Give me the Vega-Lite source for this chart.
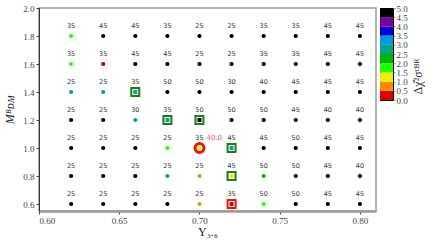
{
  "$schema": "https://vega.github.io/schema/vega-lite/v6.json",
  "background": "white",
  "padding": {"left": 3, "top": 3, "right": 2, "bottom": 0},
  "spacing": 2,
  "config": {
    "axis": {"labelFont": "Liberation Serif", "labelFontSize": 9, "labelColor": "#444", "titleFont": "Liberation Serif", "titleFontWeight": "normal", "titleColor": "#222", "tickColor": "#444", "tickSize": 3, "grid": false, "labelPadding": 2},
    "text": {"font": "DejaVu Sans"}
  },
  "resolve": {"scale": {"x": "independent", "y": "independent", "color": "shared"}},
  "datasets": {
    "pts": [
      {"x": 0.62, "y": 1.8, "lab": "35", "d": 1.75, "f": ""},
      {"x": 0.64, "y": 1.8, "lab": "45", "d": 5, "f": ""},
      {"x": 0.66, "y": 1.8, "lab": "45", "d": 5, "f": ""},
      {"x": 0.68, "y": 1.8, "lab": "35", "d": 5, "f": ""},
      {"x": 0.70, "y": 1.8, "lab": "25", "d": 5, "f": ""},
      {"x": 0.72, "y": 1.8, "lab": "25", "d": 5, "f": ""},
      {"x": 0.74, "y": 1.8, "lab": "35", "d": 5, "f": ""},
      {"x": 0.76, "y": 1.8, "lab": "35", "d": 5, "f": ""},
      {"x": 0.78, "y": 1.8, "lab": "45", "d": 5, "f": ""},
      {"x": 0.80, "y": 1.8, "lab": "45", "d": 5, "f": ""},
      {"x": 0.62, "y": 1.6, "lab": "35", "d": 1.75, "f": ""},
      {"x": 0.64, "y": 1.6, "lab": "35", "d": 4.25, "f": ""},
      {"x": 0.66, "y": 1.6, "lab": "45", "d": 5, "f": ""},
      {"x": 0.68, "y": 1.6, "lab": "45", "d": 5, "f": ""},
      {"x": 0.70, "y": 1.6, "lab": "25", "d": 5, "f": ""},
      {"x": 0.72, "y": 1.6, "lab": "25", "d": 5, "f": ""},
      {"x": 0.74, "y": 1.6, "lab": "35", "d": 5, "f": ""},
      {"x": 0.76, "y": 1.6, "lab": "35", "d": 5, "f": ""},
      {"x": 0.78, "y": 1.6, "lab": "45", "d": 5, "f": ""},
      {"x": 0.80, "y": 1.6, "lab": "45", "d": 5, "f": ""},
      {"x": 0.62, "y": 1.4, "lab": "25", "d": 2.75, "f": ""},
      {"x": 0.64, "y": 1.4, "lab": "25", "d": 2.75, "f": ""},
      {"x": 0.66, "y": 1.4, "lab": "35", "d": 2.75, "f": "g"},
      {"x": 0.68, "y": 1.4, "lab": "50", "d": 5, "f": ""},
      {"x": 0.70, "y": 1.4, "lab": "50", "d": 5, "f": ""},
      {"x": 0.72, "y": 1.4, "lab": "30", "d": 5, "f": ""},
      {"x": 0.74, "y": 1.4, "lab": "40", "d": 5, "f": ""},
      {"x": 0.76, "y": 1.4, "lab": "45", "d": 5, "f": ""},
      {"x": 0.78, "y": 1.4, "lab": "45", "d": 5, "f": ""},
      {"x": 0.80, "y": 1.4, "lab": "45", "d": 5, "f": ""},
      {"x": 0.62, "y": 1.2, "lab": "25", "d": 5, "f": ""},
      {"x": 0.64, "y": 1.2, "lab": "25", "d": 5, "f": ""},
      {"x": 0.66, "y": 1.2, "lab": "30", "d": 2.75, "f": ""},
      {"x": 0.68, "y": 1.2, "lab": "35", "d": 2.75, "f": "g"},
      {"x": 0.70, "y": 1.2, "lab": "50", "d": 5, "f": "g"},
      {"x": 0.72, "y": 1.2, "lab": "50", "d": 5, "f": ""},
      {"x": 0.74, "y": 1.2, "lab": "50", "d": 5, "f": ""},
      {"x": 0.76, "y": 1.2, "lab": "45", "d": 5, "f": ""},
      {"x": 0.78, "y": 1.2, "lab": "40", "d": 5, "f": ""},
      {"x": 0.80, "y": 1.2, "lab": "40", "d": 5, "f": ""},
      {"x": 0.62, "y": 1.0, "lab": "25", "d": 5, "f": ""},
      {"x": 0.64, "y": 1.0, "lab": "25", "d": 5, "f": ""},
      {"x": 0.66, "y": 1.0, "lab": "25", "d": 5, "f": ""},
      {"x": 0.68, "y": 1.0, "lab": "25", "d": 1.75, "f": ""},
      {"x": 0.70, "y": 1.0, "lab": "35", "d": 1.25, "f": "rc", "note": "40.0"},
      {"x": 0.72, "y": 1.0, "lab": "45", "d": 2.75, "f": "g"},
      {"x": 0.74, "y": 1.0, "lab": "45", "d": 5, "f": ""},
      {"x": 0.76, "y": 1.0, "lab": "50", "d": 5, "f": ""},
      {"x": 0.78, "y": 1.0, "lab": "45", "d": 5, "f": ""},
      {"x": 0.80, "y": 1.0, "lab": "45", "d": 5, "f": ""},
      {"x": 0.62, "y": 0.8, "lab": "25", "d": 5, "f": ""},
      {"x": 0.64, "y": 0.8, "lab": "25", "d": 5, "f": ""},
      {"x": 0.66, "y": 0.8, "lab": "25", "d": 5, "f": ""},
      {"x": 0.68, "y": 0.8, "lab": "25", "d": 3.25, "f": ""},
      {"x": 0.70, "y": 0.8, "lab": "25", "d": 0.75, "f": ""},
      {"x": 0.72, "y": 0.8, "lab": "45", "d": 1.25, "f": "g"},
      {"x": 0.74, "y": 0.8, "lab": "50", "d": 2.25, "f": ""},
      {"x": 0.76, "y": 0.8, "lab": "50", "d": 5, "f": ""},
      {"x": 0.78, "y": 0.8, "lab": "45", "d": 5, "f": ""},
      {"x": 0.80, "y": 0.8, "lab": "40", "d": 5, "f": ""},
      {"x": 0.62, "y": 0.6, "lab": "25", "d": 5, "f": ""},
      {"x": 0.64, "y": 0.6, "lab": "25", "d": 5, "f": ""},
      {"x": 0.66, "y": 0.6, "lab": "25", "d": 5, "f": ""},
      {"x": 0.68, "y": 0.6, "lab": "25", "d": 5, "f": ""},
      {"x": 0.70, "y": 0.6, "lab": "25", "d": 0.75, "f": ""},
      {"x": 0.72, "y": 0.6, "lab": "35", "d": 0.25, "f": "r"},
      {"x": 0.74, "y": 0.6, "lab": "50", "d": 1.75, "f": ""},
      {"x": 0.76, "y": 0.6, "lab": "50", "d": 5, "f": ""},
      {"x": 0.78, "y": 0.6, "lab": "45", "d": 5, "f": ""},
      {"x": 0.80, "y": 0.6, "lab": "45", "d": 5, "f": ""}
    ],
    "bar": [
      {"lo": 0.0, "hi": 0.5, "d": 0.25},
      {"lo": 0.5, "hi": 1.0, "d": 0.75},
      {"lo": 1.0, "hi": 1.5, "d": 1.25},
      {"lo": 1.5, "hi": 2.0, "d": 1.75},
      {"lo": 2.0, "hi": 2.5, "d": 2.25},
      {"lo": 2.5, "hi": 3.0, "d": 2.75},
      {"lo": 3.0, "hi": 3.5, "d": 3.25},
      {"lo": 3.5, "hi": 4.0, "d": 3.75},
      {"lo": 4.0, "hi": 4.5, "d": 4.25},
      {"lo": 4.5, "hi": 5.0, "d": 4.75}
    ]
  },
  "hconcat": [
    {
      "width": 337,
      "height": 203,
      "data": {"name": "pts"},
      "view": {"stroke": "#9a9a9a", "strokeWidth": 1.5},
      "encoding": {
        "x": {"field": "x", "type": "quantitative", "scale": {"domain": [0.6, 0.81], "nice": false, "zero": false},
              "axis": {"values": [0.6, 0.65, 0.7, 0.75, 0.8], "format": ".2f", "title": "Υ₃.₆", "titleFontSize": 12, "titlePadding": 1, "domainColor": "#9a9a9a", "domainWidth": 2.5}},
        "y": {"field": "y", "type": "quantitative", "scale": {"domain": [0.55, 2.0], "nice": false, "zero": false},
              "axis": {"values": [0.6, 0.8, 1.0, 1.2, 1.4, 1.6, 1.8, 2.0], "format": ".1f", "title": "Mᴮᴅᴍ", "titleFontStyle": "italic", "titleFontSize": 12, "titlePadding": 6, "domainColor": "#333", "domainWidth": 1}}
      },
      "layer": [
        {"transform": [{"filter": "datum.f == 'g'"}], "mark": {"type": "point", "shape": "square", "filled": true, "fill": "white", "stroke": "#1c7d1c", "strokeWidth": 2, "size": 64, "opacity": 1}, "encoding": {}},
        {"transform": [{"filter": "datum.f == 'r'"}], "mark": {"type": "point", "shape": "square", "filled": true, "fill": "white", "stroke": "#ee1111", "strokeWidth": 2, "size": 64, "opacity": 1}, "encoding": {}},
        {"transform": [{"filter": "datum.f == 'rc'"}], "mark": {"type": "point", "shape": "circle", "filled": true, "fill": "white", "stroke": "#ee1111", "strokeWidth": 3, "size": 80, "opacity": 1}, "encoding": {}},
        {"transform": [{"filter": "datum.f == ''"}], "mark": {"type": "point", "shape": "circle", "filled": true, "size": 18, "opacity": 1},
         "encoding": {"color": {"field": "d", "type": "quantitative", "legend": null,
           "scale": {"type": "threshold", "domain": [0.5, 1, 1.5, 2, 2.5, 3, 3.5, 4, 4.5],
             "range": ["#dd0000", "#ff8c00", "#eeee00", "#22ff00", "#00b400", "#00a788", "#0099dd", "#0000dd", "#770099", "#000000"]}}}},
        {"transform": [{"filter": "datum.f != ''"}], "mark": {"type": "point", "shape": "square", "filled": true, "size": 16, "opacity": 1},
         "encoding": {"color": {"field": "d", "type": "quantitative", "legend": null,
           "scale": {"type": "threshold", "domain": [0.5, 1, 1.5, 2, 2.5, 3, 3.5, 4, 4.5],
             "range": ["#dd0000", "#ff8c00", "#eeee00", "#22ff00", "#00b400", "#00a788", "#0099dd", "#0000dd", "#770099", "#000000"]}}}},
        {"mark": {"type": "text", "dy": -10, "fontSize": 6.5, "color": "#333", "baseline": "middle"}, "encoding": {"text": {"field": "lab"}}},
        {"transform": [{"filter": "isValid(datum.note)"}], "mark": {"type": "text", "dy": -10, "dx": 7, "align": "left", "fontSize": 7, "color": "#ff5050", "baseline": "middle"}, "encoding": {"text": {"field": "note"}}}
      ]
    },
    {
      "width": 13,
      "height": 92,
      "data": {"name": "bar"},
      "view": {"stroke": "black", "strokeWidth": 1},
      "mark": {"type": "rect"},
      "encoding": {
        "y": {"field": "lo", "type": "quantitative", "scale": {"domain": [0, 5], "nice": false},
              "axis": {"orient": "right", "values": [0, 0.5, 1, 1.5, 2, 2.5, 3, 3.5, 4, 4.5, 5], "format": ".1f", "domain": false, "tickColor": "#888", "tickSize": 2, "labelPadding": 1, "title": "Δχ̂²σᶜᴮᴿ", "titleFontSize": 12, "titleAngle": 270, "titlePadding": 4, "titleX": 31, "titleY": 68}},
        "y2": {"field": "hi"},
        "color": {"field": "d", "type": "quantitative", "legend": null,
           "scale": {"type": "threshold", "domain": [0.5, 1, 1.5, 2, 2.5, 3, 3.5, 4, 4.5],
             "range": ["#dd0000", "#ff8c00", "#eeee00", "#22ff00", "#00b400", "#00a788", "#0099dd", "#0000dd", "#770099", "#000000"]}}
      }
    }
  ]
}
